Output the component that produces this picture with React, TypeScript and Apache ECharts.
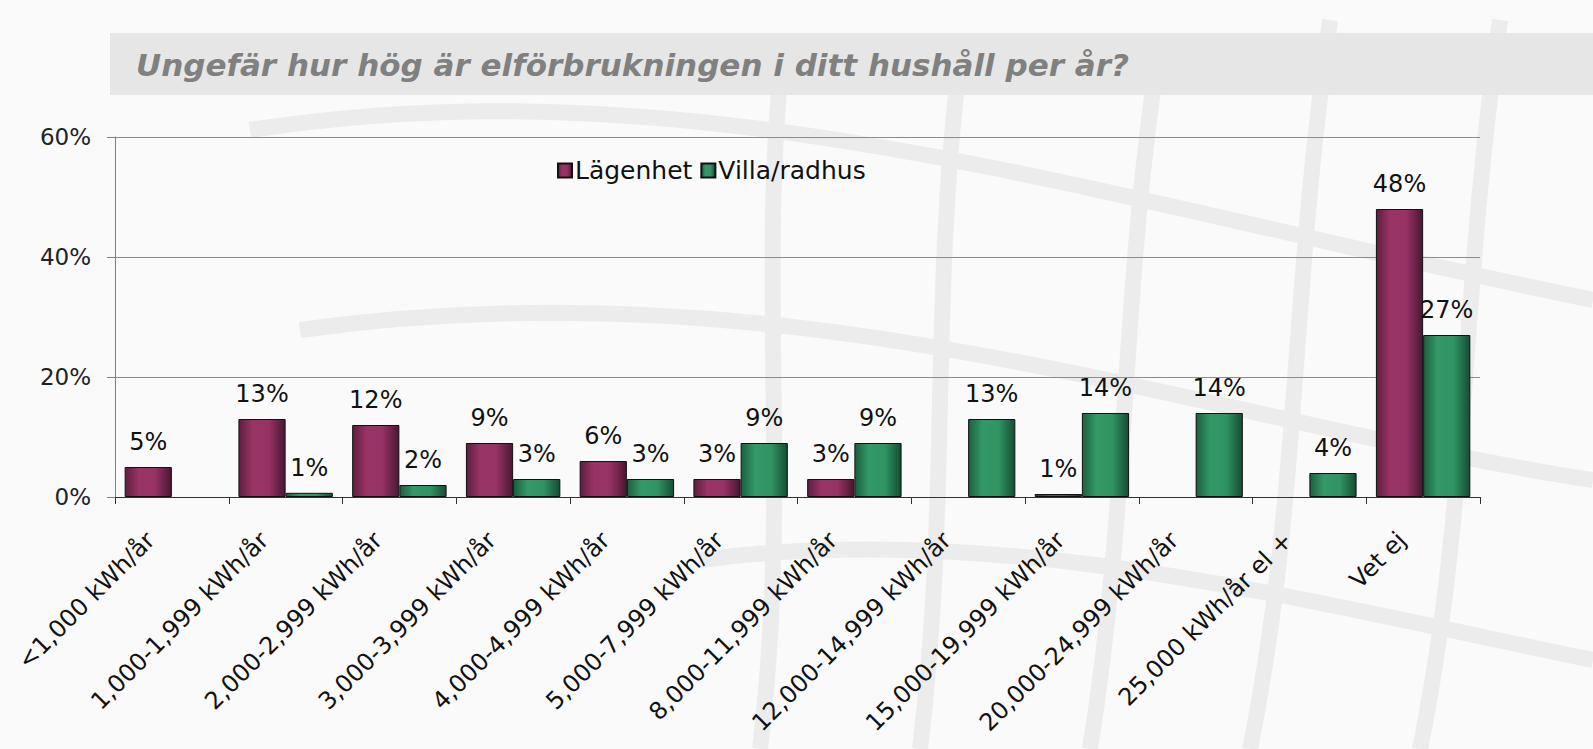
import React, { useEffect, useRef } from "react";
import * as echarts from "echarts";

const categories = [
  "<1,000 kWh/år",
  "1,000-1,999 kWh/år",
  "2,000-2,999 kWh/år",
  "3,000-3,999 kWh/år",
  "4,000-4,999 kWh/år",
  "5,000-7,999 kWh/år",
  "8,000-11,999 kWh/år",
  "12,000-14,999 kWh/år",
  "15,000-19,999 kWh/år",
  "20,000-24,999 kWh/år",
  "25,000 kWh/år el +",
  "Vet ej",
];
const lagenhet = [5, 13, 12, 9, 6, 3, 3, null, 0.5, null, null, 48];
const villa = [null, 0.7, 2, 3, 3, 9, 9, 13, 14, 14, 4, 27];
const yTicks = [0, 20, 40, 60];

const FONT = "DejaVu Sans";

const purpleGrad = new echarts.graphic.LinearGradient(0, 0, 1, 0, [
  { offset: 0, color: "#5e1e3f" },
  { offset: 0.3, color: "#9a3466" },
  { offset: 0.65, color: "#963264" },
  { offset: 1, color: "#4a1731" },
]);
const greenGrad = new echarts.graphic.LinearGradient(0, 0, 1, 0, [
  { offset: 0, color: "#1c6040" },
  { offset: 0.3, color: "#339966" },
  { offset: 0.65, color: "#309462" },
  { offset: 1, color: "#174d33" },
]);

const bgCurves: number[][] = [
  [250, 130, 700, 60, 1100, 200, 1593, 300],
  [300, 330, 800, 260, 1200, 420, 1593, 480],
  [700, 560, 1000, 520, 1300, 600, 1593, 660],
  [780, 80, 760, 300, 790, 500, 760, 749],
  [960, 60, 930, 300, 950, 500, 920, 749],
  [1160, 40, 1120, 300, 1130, 500, 1090, 749],
  [1330, 20, 1290, 300, 1300, 500, 1250, 749],
  [1500, 20, 1460, 300, 1470, 500, 1420, 749],
];

export default function App() {
  const ref = useRef<HTMLDivElement>(null);
  useEffect(() => {
    if (!ref.current) return;
    const chart = echarts.init(ref.current, null, { renderer: "svg" });
    const label = {
      show: true,
      position: "top" as const,
      color: "#111",
      fontFamily: FONT,
      fontSize: 24,
      distance: 13,
      formatter: (p: any) => Math.round(p.value) + "%",
    };
    chart.setOption({
      animation: false,
      backgroundColor: "#fafafa",
      graphic: [
        ...bgCurves.map((c) => ({
          type: "bezierCurve",
          z: -10,
          silent: true,
          shape: { x1: c[0], y1: c[1], cpx1: c[2], cpy1: c[3], cpx2: c[4], cpy2: c[5], x2: c[6], y2: c[7] },
          style: { stroke: "#ececec", lineWidth: 16, fill: null },
        })),
        {
          type: "rect",
          z: -5,
          silent: true,
          shape: { x: 110, y: 33, width: 1483, height: 62 },
          style: { fill: "#e6e6e6" },
        },
      ],
      title: {
        text: "Ungefär hur hög är elförbrukningen i ditt hushåll per år?",
        left: 131,
        top: 44,
        textStyle: {
          color: "#808080",
          fontStyle: "italic",
          fontWeight: "bold",
          fontFamily: FONT,
          fontSize: 31,
        },
      },
      legend: {
        left: 552,
        top: 153,
        itemWidth: 14,
        itemHeight: 14,
        itemGap: 8,
        icon: "rect",
        textStyle: { color: "#111", fontFamily: FONT, fontSize: 25, padding: [0, 0, 0, -2] },
        data: ["Lägenhet", "Villa/radhus"],
      },
      grid: { left: 115, right: 113, top: 137, bottom: 252, containLabel: false },
      xAxis: {
        type: "category",
        data: categories,
        axisLine: { lineStyle: { color: "#333", width: 1 } },
        axisTick: { show: true, length: 7, lineStyle: { color: "#333" } },
        axisLabel: {
          interval: 0,
          rotate: 45,
          margin: 18,
          padding: [0, 30, 0, 0],
          color: "#111",
          fontFamily: FONT,
          fontSize: 24,
        },
      },
      yAxis: {
        type: "value",
        min: yTicks[0],
        max: yTicks[yTicks.length - 1],
        interval: 20,
        axisLine: { show: true, lineStyle: { color: "#808080" } },
        axisTick: { show: true, length: 8, lineStyle: { color: "#808080" } },
        axisLabel: {
          formatter: "{value}%",
          color: "#222",
          fontFamily: FONT,
          fontSize: 23,
          margin: 24,
        },
        splitLine: { show: true, lineStyle: { color: "#8c8c8c", width: 1 } },
      },
      series: [
        {
          name: "Lägenhet",
          type: "bar",
          data: lagenhet,
          barGap: "0%",
          barCategoryGap: "17%",
          itemStyle: { color: purpleGrad, borderColor: "#111", borderWidth: 1 },
          label,
        },
        {
          name: "Villa/radhus",
          type: "bar",
          data: villa,
          barGap: "0%",
          barCategoryGap: "17%",
          itemStyle: { color: greenGrad, borderColor: "#111", borderWidth: 1 },
          label,
        },
      ],
    });
    return () => chart.dispose();
  }, []);
  return (
    <div
      ref={ref}
      style={{ position: "absolute", left: 0, top: 0, width: 1593, height: 749 }}
    />
  );
}
